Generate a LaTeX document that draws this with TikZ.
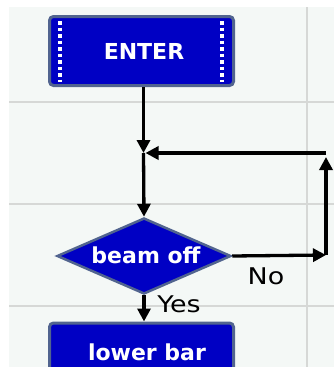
\documentclass[tikz,border=0pt]{standalone}
\usepackage{fontspec}
\setmainfont{DejaVu Sans}
\usetikzlibrary{shapes.geometric,arrows.meta}
\definecolor{bg}{HTML}{F4F8F6}
\definecolor{gridc}{HTML}{D6D8D6}
\definecolor{boxblue}{HTML}{0000C4}
\definecolor{rim}{HTML}{51648F}
\tikzset{
  procbox/.style={draw=rim, line width=3pt, fill=boxblue, rounded corners=4pt,
    minimum width=184pt, minimum height=69pt, inner sep=0pt},
  decbox/.style={diamond, draw=rim, line width=2.5pt, fill=boxblue,
    minimum width=174pt, minimum height=76pt, inner sep=0pt},
  wtxt/.style={text=white, font=\fontsize{22}{26}\selectfont\bfseries},
  ltxt/.style={text=black, font=\fontsize{23}{27}\selectfont, xscale=1.17},
  arr/.style={line width=3.3pt, -{Triangle[length=13pt,width=13pt]}},
  gridl/.style={draw=gridc, line width=1.5pt},
  film/.style={draw=white, line width=4pt, dash pattern=on 3.5pt off 3pt}
}
\begin{document}
\begin{tikzpicture}[x=1pt,y=-1pt]
\useasboundingbox (0,0) rectangle (334,367);
\clip (0,0) rectangle (334,367);
\fill[white] (0,0) rectangle (334,367);
\fill[bg] (9,7) rectangle (334,367);
\draw[gridl] (9,102) -- (334,102);
\draw[gridl] (9,204) -- (334,204);
\draw[gridl] (9,306) -- (334,306);
\draw[gridl] (307,7) -- (307,367);
% nodes
\node[procbox] (enter) at (141.5,51) {};
\node[wtxt] (entert) at (144,51) {ENTER};
\draw[film] (60,21) -- (60,82);
\draw[film] (222,21) -- (222,82);
\node[decbox] (d) at (144,256) {};
\node[wtxt] (dt) at (146,255) {beam off};
\node[procbox] (low) at (141.5,357.5) {};
\node[wtxt, inner sep=0pt, anchor=base] (lowt) at (147,360) {lower bar};
\coordinate (j) at (143.5,153);
\coordinate (r) at (326,255);
\coordinate (t) at (326,153);
% connectors
\draw[arr] (enter.south -| j) -- (j);
\draw[arr] (j) -- (d.north);
\draw[arr] (d.east) -- (r);
\draw[arr, shorten >=4pt] (r) -- (t);
\draw[arr, shorten >=2pt] (t) -- (j);
\draw[arr] (d.south) -- (low.north -| d.south);
\node[ltxt] (no) at (266,276) {No};
\node[ltxt] (yes) at (179,304) {Yes};
\end{tikzpicture}
\end{document}
